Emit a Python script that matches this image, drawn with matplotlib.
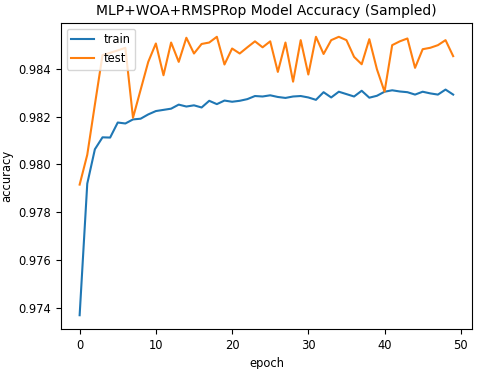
import matplotlib
matplotlib.use('Agg')
import matplotlib.pyplot as plt

epochs = list(range(50))

train_acc = [
    0.97368, 0.97919, 0.98063, 0.98113, 0.98112, 0.98175, 0.98171, 0.98188,
    0.98191, 0.98209, 0.98223, 0.98228, 0.98233, 0.98250, 0.98242, 0.98247,
    0.98238, 0.98266, 0.98252, 0.98267, 0.98262, 0.98266, 0.98273, 0.98286,
    0.98284, 0.98289, 0.98282, 0.98278, 0.98284, 0.98286, 0.98280, 0.98270,
    0.98302, 0.98280, 0.98304, 0.98294, 0.98284, 0.98308, 0.98279, 0.98287,
    0.98304, 0.98310, 0.98305, 0.98302, 0.98292, 0.98304, 0.98297, 0.98292,
    0.98313, 0.98292,
]

test_acc = [
    0.97915, 0.98040, 0.98250, 0.98457, 0.98467, 0.98477, 0.98488, 0.98195,
    0.98312, 0.98429, 0.98506, 0.98373, 0.98510, 0.98429, 0.98530, 0.98464,
    0.98504, 0.98510, 0.98534, 0.98418, 0.98485, 0.98464, 0.98490, 0.98515,
    0.98490, 0.98515, 0.98387, 0.98510, 0.98346, 0.98520, 0.98376, 0.98534,
    0.98462, 0.98520, 0.98534, 0.98520, 0.98450, 0.98419, 0.98524, 0.98398,
    0.98304, 0.98499, 0.98515, 0.98527, 0.98404, 0.98482, 0.98488, 0.98499,
    0.98520, 0.98453,
]

plt.rcParams['font.size'] = 8.3

fig = plt.figure(figsize=(4.8, 3.69), dpi=100)
ax = fig.add_subplot()
fig.subplots_adjust(left=0.127, right=0.983, top=0.938, bottom=0.108)

ax.plot(epochs, train_acc, label='train')
ax.plot(epochs, test_acc, label='test')
ax.set_title('MLP+WOA+RMSPRop Model Accuracy (Sampled)')
ax.set_xlabel('epoch')
ax.set_ylabel('accuracy')
ax.legend(loc='upper left')

fig.savefig('out.png', dpi=100)
